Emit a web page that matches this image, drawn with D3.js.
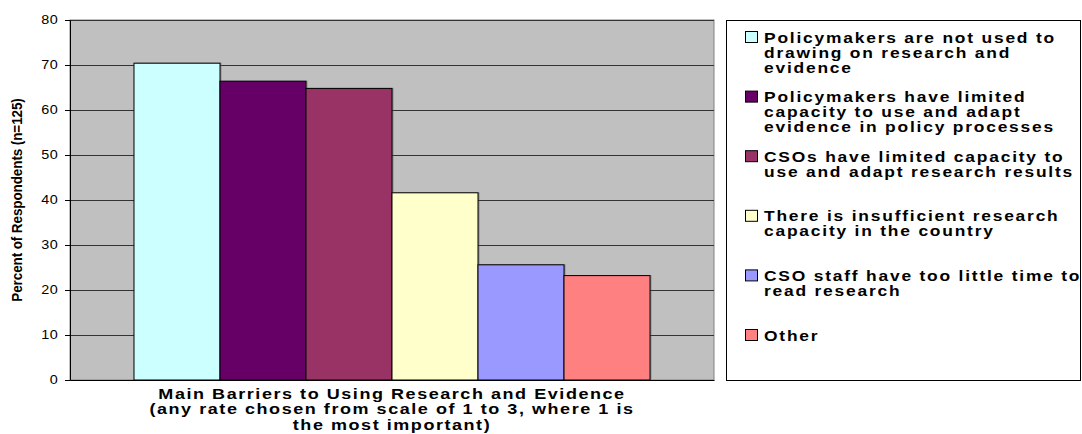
<!DOCTYPE html>
<html>
<head>
<meta charset="utf-8">
<script src="https://cdn.jsdelivr.net/npm/d3@7"></script>
<style>
  html, body { margin: 0; padding: 0; background: #fff; }
  svg { display: block; font-family: "Liberation Sans", Arial, sans-serif; }
</style>
</head>
<body>
<svg id="chart" width="1082" height="434"></svg>
<script>
// Barriers to using research and evidence, percent of respondents (n=125)
const categories = [
  "Policymakers are not used to\ndrawing on research and\nevidence",
  "Policymakers have limited\ncapacity to use and adapt\nevidence in policy processes",
  "CSOs have limited capacity to\nuse and adapt research results",
  "There is insufficient research\ncapacity in the country",
  "CSO staff have too little time to\nread research",
  "Other"
];
const values = [70.4, 66.4, 64.8, 41.6, 25.6, 23.2];
const colors = ["#CCFFFF", "#660066", "#993366", "#FFFFCC", "#9999FF", "#FF8080"];
const yTicks = [0, 10, 20, 30, 40, 50, 60, 70, 80];
const xTitle = [
  "Main Barriers to Using Research and Evidence",
  "(any rate chosen from scale of 1 to 3, where 1 is",
  "the most important)"
];
const yTitle = "Percent of Respondents (n=125)";

// text is drawn slightly wide, like the original chart export
const stretch = 1.2;

const svg = d3.select("#chart");
const plot = { left: 70, right: 714, top: 20, bottom: 380 };

const x = d3.scaleBand()
  .domain(d3.range(categories.length))
  .range([plot.left, plot.right])
  .paddingInner(0)
  .paddingOuter(0.744);

const y = d3.scaleLinear()
  .domain([0, 80])
  .range([plot.bottom, plot.top]);

// plot area background
svg.append("rect")
  .attr("x", plot.left).attr("y", plot.top)
  .attr("width", plot.right - plot.left).attr("height", plot.bottom - plot.top)
  .attr("fill", "#C0C0C0")
  .attr("stroke", "#808080").attr("stroke-width", 1);

// horizontal gridlines
svg.append("g")
  .selectAll("line")
  .data(yTicks.filter(d => d > 0))
  .join("line")
  .attr("x1", plot.left).attr("x2", plot.right)
  .attr("y1", d => Math.round(y(d)) + 0.5).attr("y2", d => Math.round(y(d)) + 0.5)
  .attr("stroke", "#333").attr("stroke-width", 1);

// bar shadows
svg.append("g")
  .selectAll("rect")
  .data(values)
  .join("rect")
  .attr("x", (d, i) => x(i) + 1.5)
  .attr("y", d => y(d) - 0.5)
  .attr("width", x.bandwidth())
  .attr("height", d => y(0) - y(d))
  .attr("fill", "#555").attr("opacity", 0.5);

// bars
svg.append("g")
  .selectAll("rect")
  .data(values)
  .join("rect")
  .attr("x", (d, i) => x(i))
  .attr("y", d => y(d))
  .attr("width", x.bandwidth())
  .attr("height", d => y(0) - y(d))
  .attr("fill", (d, i) => colors[i])
  .attr("stroke", "#000").attr("stroke-width", 1);

// y axis
const yAxis = svg.append("g")
  .attr("transform", `translate(${plot.left},0)`)
  .call(d3.axisLeft(y).tickValues(yTicks).tickSize(5).tickPadding(4.5));
yAxis.select(".domain").attr("stroke", "#000");
yAxis.selectAll(".tick line").attr("stroke", "#000");
yAxis.selectAll(".tick text")
  .attr("font-family", "Liberation Sans, Arial, sans-serif")
  .attr("font-size", 12)
  .attr("letter-spacing", 0.6)
  .attr("transform", `scale(${stretch},1)`)
  .attr("fill", "#000");

// x axis baseline
const xAxis = svg.append("g")
  .attr("transform", `translate(0,${plot.bottom})`)
  .call(d3.axisBottom(x).tickValues([]).tickSizeOuter(0));
xAxis.select(".domain").attr("stroke", "#000");
svg.append("line")
  .attr("x1", plot.left - 5).attr("x2", plot.left)
  .attr("y1", plot.bottom + 0.5).attr("y2", plot.bottom + 0.5)
  .attr("stroke", "#000");

// x axis title
svg.append("g")
  .selectAll("text")
  .data(xTitle)
  .join("text")
  .attr("transform", (d, i) => `translate(392,${398.5 + i * 15.6}) scale(${stretch},1)`)
  .attr("text-anchor", "middle")
  .attr("font-weight", "bold")
  .attr("font-size", 15)
  .attr("letter-spacing", 1.3)
  .attr("fill", "#000")
  .text(d => d);

// y axis title
svg.append("text")
  .attr("transform", `translate(22,200) scale(1.15,1) rotate(-90)`)
  .attr("text-anchor", "middle")
  .attr("font-weight", "bold")
  .attr("font-size", 13.5)
  .attr("letter-spacing", -0.1)
  .attr("fill", "#000")
  .text(yTitle);

// legend
const legend = { left: 726, top: 20, right: 1080, bottom: 380 };
svg.append("rect")
  .attr("x", legend.left + 0.5).attr("y", legend.top + 0.5)
  .attr("width", legend.right - legend.left).attr("height", legend.bottom - legend.top)
  .attr("fill", "#fff").attr("stroke", "#000");

const entries = svg.append("g")
  .selectAll("g")
  .data(categories)
  .join("g")
  .attr("transform", (d, i) => `translate(0,${37 + i * 59.6})`);

entries.append("rect")
  .attr("x", 745.5).attr("y", -5.5)
  .attr("width", 12).attr("height", 11)
  .attr("fill", (d, i) => colors[i])
  .attr("stroke", "#000");

entries.append("text")
  .attr("transform", `translate(764,0) scale(${stretch},1)`)
  .attr("font-weight", "bold")
  .attr("font-size", 14.5)
  .attr("letter-spacing", 1.5)
  .attr("fill", "#000")
  .selectAll("tspan")
  .data(d => d.split("\n"))
  .join("tspan")
  .attr("x", 0)
  .attr("y", (d, i) => 5.5 + i * 15.2)
  .text(d => d);
</script>
</body>
</html>
